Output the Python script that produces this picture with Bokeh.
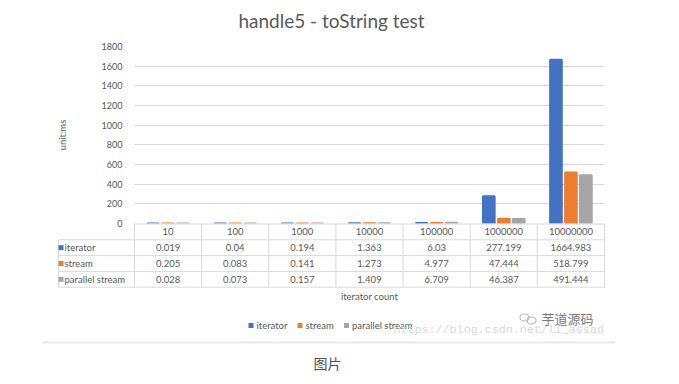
from bokeh.plotting import figure
from bokeh.models import FactorRange, Range1d, FixedTicker, ColumnDataSource
from bokeh.transform import dodge
from bokeh.core.properties import value
from bokeh.embed import file_html
from bokeh.resources import INLINE

# ---------------- data ----------------
categories = ["10", "100", "1000", "10000", "100000", "1000000", "10000000"]
series_names = ["iterator", "stream", "parallel stream"]
iterator_ms = [0.019, 0.04, 0.194, 1.363, 6.03, 277.199, 1664.983]
stream_ms = [0.205, 0.083, 0.141, 1.273, 4.977, 47.444, 518.799]
parallel_ms = [0.028, 0.073, 0.157, 1.409, 6.709, 46.387, 491.444]
y_ticks = [0, 200, 400, 600, 800, 1000, 1200, 1400, 1600, 1800]
title_text = "handle5 - toString test"
y_label = "unit:ms"
x_label = "iterator count"
caption = "图片"
watermark = "https://blog.csdn.net/li_assad"
brand = "芋道源码"

colors = ["#4472C4", "#ED7D31", "#A5A5A5"]
TXT = "#595959"
GRID = "#d9d9d9"
FONT = value("Lato")

# ---------------- layout geometry (pixels) ----------------
W, H = 679, 384
FL, FR, FT, FB = 134, 604, 46, 223
YMAX = 1800
ncat = len(categories)
cat_px = (FR - FL) / ncat


def ydat(py):
    return (FB - py) * YMAX / (FB - FT)


def xdat(px):
    return (px - FL) / cat_px


p = figure(width=W, height=H,
           x_range=FactorRange(factors=categories, range_padding=0, factor_padding=0),
           y_range=Range1d(0, YMAX),
           output_backend="svg", toolbar_location=None,
           min_border_left=FL, min_border_right=W - FR,
           min_border_top=FT, min_border_bottom=H - FB)
p.outline_line_color = None
p.background_fill_color = "white"
p.border_fill_color = "white"
p.xgrid.grid_line_color = None
p.ygrid.grid_line_color = GRID
p.ygrid.grid_line_width = 1

ya = p.yaxis[0]
ya.ticker = FixedTicker(ticks=y_ticks)
ya.axis_line_color = None
ya.major_tick_line_color = None
ya.minor_tick_line_color = None
ya.major_label_standoff = 6
ya.major_label_text_font = "Lato"
ya.major_label_text_font_size = "9px"
ya.major_label_text_color = TXT
ya.axis_label = y_label
ya.axis_label_standoff = 31
ya.axis_label_text_font = "Lato"
ya.axis_label_text_font_style = "normal"
ya.axis_label_text_font_size = "9.5px"
ya.axis_label_text_color = TXT

xa = p.xaxis[0]
xa.axis_line_color = None
xa.major_tick_line_color = None
xa.minor_tick_line_color = None
xa.major_label_standoff = -2
xa.major_label_text_font = "Lato"
xa.major_label_text_font_size = "9.5px"
xa.major_label_text_color = TXT
xa.axis_label = x_label
xa.axis_label_standoff = 53
xa.axis_label_text_font = "Lato"
xa.axis_label_text_font_style = "normal"
xa.axis_label_text_font_size = "9.5px"
xa.axis_label_text_color = TXT

# ---------------- bars ----------------
src = ColumnDataSource(dict(cat=categories, s0=iterator_ms, s1=stream_ms, s2=parallel_ms))
offsets = [-0.223, 0.0, 0.223]
for k in range(3):
    p.vbar(x=dodge("cat", offsets[k], range=p.x_range), top="s%d" % k, width=0.174,
           source=src, fill_color=colors[k], line_color=colors[k], line_width=2)

# ---------------- data table ----------------
row_edges = [223.5, 239.3, 255.1, 270.9, 286.7]
x0s, y0s, x1s, y1s = [], [], [], []
for i, py in enumerate(row_edges):
    left = FL if i == 0 else 58
    x0s.append(xdat(left)); x1s.append(xdat(FR)); y0s.append(ydat(py)); y1s.append(ydat(py))
for i in range(ncat + 1):
    x0s.append(float(i)); x1s.append(float(i)); y0s.append(ydat(row_edges[0])); y1s.append(ydat(row_edges[-1]))
x0s.append(xdat(58)); x1s.append(xdat(58)); y0s.append(ydat(row_edges[1])); y1s.append(ydat(row_edges[-1]))
p.segment(x0=x0s, y0=y0s, x1=x1s, y1=y1s, line_color=GRID, line_width=1, level="overlay")


def square(px, py, color):
    # small colour key drawn as a thick short segment
    p.segment(x0=[xdat(px - 2.5)], y0=[ydat(py)], x1=[xdat(px + 2.5)], y1=[ydat(py)],
              line_color=color, line_width=5, line_cap="butt", level="overlay")


all_series = [iterator_ms, stream_ms, parallel_ms]
for r, vals in enumerate(all_series):
    yc = ydat((row_edges[r + 1] + row_edges[r + 2]) / 2)
    p.text(x=[i + 0.5 for i in range(ncat)], y=[yc] * ncat, text=[str(v) for v in vals],
           text_font=FONT, text_font_size="9.5px", text_color=TXT,
           text_align="center", text_baseline="middle", level="overlay")
    square(60.5, (row_edges[r + 1] + row_edges[r + 2]) / 2, colors[r])
    p.text(x=[xdat(64)], y=[yc], text=[series_names[r]], text_font=FONT,
           text_font_size="9.5px", text_color=TXT, text_align="left",
           text_baseline="middle", level="overlay")

# ---------------- legend ----------------
leg_sq = [250.5, 299.5, 346.0]
for k in range(3):
    square(leg_sq[k], 325, colors[k])
    p.text(x=[xdat(leg_sq[k] + 5.5)], y=[ydat(325)], text=[series_names[k]], text_font=FONT,
           text_font_size="9.5px", text_color=TXT, text_align="left",
           text_baseline="middle", level="overlay")

# ---------------- title ----------------
p.text(x=[xdat(331)], y=[ydat(20)], text=[title_text], text_font=FONT,
       text_font_size="19px", text_color=TXT, text_align="center",
       text_baseline="middle", level="overlay")

# ---------------- watermark / decorations ----------------
p.text(x=[xdat(393)], y=[ydat(329)], text=[watermark], text_font=value("Liberation Mono"),
       text_font_size="11.7px", text_color="#d8d8d8", text_align="left",
       text_baseline="middle", level="overlay")
p.ellipse(x=[xdat(524), xdat(531)], y=[ydat(317), ydat(320)], width=[xdat(133) - xdat(124)] * 2,
          height=[ydat(0) - ydat(7)] * 2, fill_color=None, line_color="#b0b0b0",
          line_width=1, level="overlay")
p.text(x=[xdat(541)], y=[ydat(318)], text=[brand], text_font=value("Noto Sans CJK SC"),
       text_font_size="13px", text_color="#7a7a7a", text_align="left",
       text_baseline="middle", level="overlay")
p.segment(x0=[xdat(42)], y0=[ydat(342)], x1=[xdat(615)], y1=[ydat(342)],
          line_color="#e8e8e8", line_width=2, level="overlay")
p.text(x=[xdat(327)], y=[ydat(362)], text=[caption], text_font=value("Noto Sans CJK SC"),
       text_font_size="14px", text_color="#505050", text_align="center",
       text_baseline="middle", level="overlay")

open("out.html", "w").write(file_html(p, INLINE))
